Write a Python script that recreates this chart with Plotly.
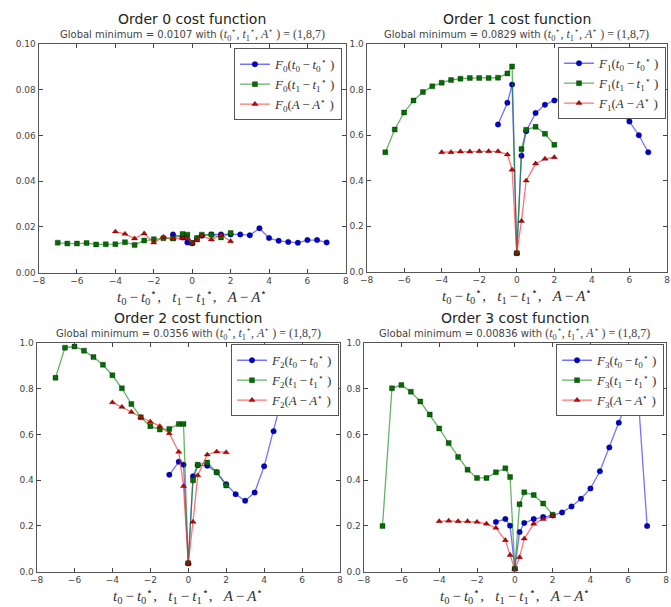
import plotly.graph_objects as go

# ---------------- data ----------------
x_t0 = [-1, -0.5, -0.25, 0, 0.25, 0.5, 1, 1.5, 2, 2.5, 3, 3.5, 4, 4.5, 5, 5.5, 6, 6.5, 7]
x_t1 = [-7, -6.5, -6, -5.5, -5, -4.5, -4, -3.5, -3, -2.5, -2, -1.5, -1, -0.5, -0.25,
        0, 0.25, 0.5, 1, 1.5, 2]
x_A = [-4, -3.5, -3, -2.5, -2, -1.5, -1, -0.5, -0.25, 0, 0.25, 0.5, 1, 1.5, 2]

# Order 0
f0_t0 = [0.0167, 0.0153, 0.0132, 0.0128, 0.0149, 0.0161, 0.0167, 0.0167, 0.0167, 0.0167,
         0.0163, 0.0194, 0.0151, 0.0139, 0.0134, 0.0130, 0.0142, 0.0142, 0.0132]
f0_t1 = [0.0131, 0.0127, 0.0127, 0.0129, 0.0123, 0.0124, 0.0124, 0.0133, 0.0121, 0.0140,
         0.0146, 0.0150, 0.0149, 0.0169, 0.0166, 0.0129, 0.0151, 0.0166, 0.0166, 0.0154, 0.0173]
f0_A = [0.0179, 0.0169, 0.0149, 0.0171, 0.0131, 0.0156, 0.0149, 0.0151, 0.0150, 0.0129,
        0.0140, 0.0161, 0.0144, 0.0164, 0.0137]

# Order 1
f1_t0 = [0.647, 0.743, 0.823, 0.081, 0.510, 0.618, 0.698, 0.734, 0.753, 0.765,
         0.770, 0.775, 0.770, 0.760, 0.735, 0.700, 0.660, 0.600, 0.525]
f1_t1 = [0.525, 0.625, 0.700, 0.753, 0.790, 0.815, 0.831, 0.843, 0.849, 0.852,
         0.852, 0.852, 0.853, 0.872, 0.903, 0.081, 0.539, 0.624, 0.637, 0.606, 0.558]
f1_A = [0.525, 0.525, 0.528, 0.528, 0.529, 0.529, 0.529, 0.515, 0.448, 0.081,
        0.222, 0.400, 0.475, 0.496, 0.503]

# Order 2
f2_t0 = [0.424, 0.481, 0.468, 0.036, 0.417, 0.466, 0.464, 0.435, 0.382, 0.339,
         0.310, 0.346, 0.461, 0.615, 0.780, 0.900, 0.950, 0.930, 0.850]
f2_t1 = [0.849, 0.981, 0.986, 0.968, 0.940, 0.906, 0.860, 0.803, 0.734, 0.676,
         0.637, 0.622, 0.625, 0.647, 0.647, 0.036, 0.400, 0.468, 0.478, 0.435, 0.377]
f2_A = [0.741, 0.721, 0.699, 0.676, 0.656, 0.637, 0.605, 0.524, 0.374, 0.036,
        0.217, 0.421, 0.512, 0.525, 0.522]

# Order 3
f3_t0 = [0.217, 0.230, 0.201, 0.012, 0.173, 0.213, 0.230, 0.239, 0.246, 0.259,
         0.285, 0.319, 0.364, 0.439, 0.544, 0.652, 0.760, 0.800, 0.199]
f3_t1 = [0.199, 0.803, 0.817, 0.788, 0.745, 0.688, 0.627, 0.563, 0.502, 0.446,
         0.410, 0.410, 0.435, 0.452, 0.414, 0.012, 0.295, 0.347, 0.335, 0.298, 0.249]
f3_A = [0.220, 0.222, 0.220, 0.220, 0.217, 0.209, 0.191, 0.137, 0.072, 0.009,
        0.062, 0.144, 0.209, 0.230, 0.242]

orders = [0, 1, 2, 3]
minima = ["0.0107", "0.0829", "0.0356", "0.00836"]
series = [(f0_t0, f0_t1, f0_A), (f1_t0, f1_t1, f1_A), (f2_t0, f2_t1, f2_A), (f3_t0, f3_t1, f3_A)]

# ---------------- layout helpers ----------------
W, H = 671, 607
# panel boxes in pixels: (left, right, top, bottom)
boxes = [(32, 344, 40, 272), (365, 670, 40, 271), (30, 338, 344, 576), (362, 669, 344, 576)]
legend_pos = [(340, 44), (669, 43), (337, 345), (667, 345)]

STAR = "\u22c6"
MINUS = "\u2009\u2212\u2009"
SERIF = "Liberation Serif, DejaVu Serif, serif"
SANS = "DejaVu Sans, sans-serif"

styles = [
    dict(name="t0", x=x_t0, line="rgba(40,40,255,0.65)", mk="rgb(0,0,210)", sym="circle", size=5.5),
    dict(name="t1", x=x_t1, line="rgba(0,128,0,0.6)", mk="rgb(0,110,0)", sym="square", size=5),
    dict(name="A", x=x_A, line="rgba(255,40,40,0.65)", mk="rgb(200,0,0)", sym="triangle-up", size=5.5),
]


def arg_label(name):
    if name == "t0":
        return f"<i>t</i><sub>0</sub>{MINUS}<i>t</i><sub>0</sub><sup>{STAR}</sup>"
    if name == "t1":
        return f"<i>t</i><sub>1</sub>{MINUS}<i>t</i><sub>1</sub><sup>{STAR}</sup>"
    return f"<i>A</i>{MINUS}<i>A</i><sup>{STAR}</sup>"


fig = go.Figure()
layout = dict(
    width=W, height=H, margin=dict(l=0, r=0, t=0, b=0),
    paper_bgcolor="white", plot_bgcolor="white", showlegend=True,
    font=dict(family=SANS, size=9, color="#333"),
)
annotations = []

for i, k in enumerate(orders):
    l, r, t, b = boxes[i]
    xa = "xaxis" if i == 0 else f"xaxis{i+1}"
    ya = "yaxis" if i == 0 else f"yaxis{i+1}"
    xref = "x" if i == 0 else f"x{i+1}"
    yref = "y" if i == 0 else f"y{i+1}"
    leg = "legend" if i == 0 else f"legend{i+1}"

    for s, yvals in zip(styles, series[i]):
        fig.add_trace(go.Scatter(
            x=s["x"], y=yvals, xaxis=xref, yaxis=yref, legend=leg,
            mode="lines+markers",
            name=f"<i>F</i><sub>{k}</sub>({arg_label(s['name'])} )",
            line=dict(color=s["line"], width=1.3),
            marker=dict(color=s["mk"], symbol=s["sym"], size=s["size"],
                        line=dict(color="rgba(0,0,0,0.6)", width=0.5)),
            cliponaxis=True,
        ))

    layout[xa] = dict(
        domain=[l / W, r / W], anchor=yref, range=[-8, 8], tickmode="array",
        tickvals=[-8, -6, -4, -2, 0, 2, 4, 6, 8], ticks="inside", ticklen=4,
        showline=True, linecolor="#555", linewidth=1, mirror="ticks",
        showgrid=False, zeroline=False, tickfont=dict(size=9, color="#444"),
    )
    if k == 0:
        yt = dict(range=[0, 0.1], tickvals=[0, 0.02, 0.04, 0.06, 0.08, 0.10], tickformat=".2f")
    else:
        yt = dict(range=[0, 1.0], tickvals=[0, 0.2, 0.4, 0.6, 0.8, 1.0], tickformat=".1f")
    layout[ya] = dict(
        domain=[1 - b / H, 1 - t / H], anchor=xref, tickmode="array", ticks="inside", ticklen=4,
        showline=True, linecolor="#555", linewidth=1, mirror="ticks",
        showgrid=False, zeroline=False, tickfont=dict(size=9, color="#444"), **yt,
    )
    lx, ly = legend_pos[i]
    layout[leg] = dict(
        x=lx / W, y=1 - ly / H, xanchor="right", yanchor="top", xref="paper", yref="paper",
        bgcolor="white", bordercolor="#555", borderwidth=1,
        font=dict(family=SERIF, size=13, color="#333"), tracegroupgap=0,
        itemwidth=30,
    )
    cx = (l + r) / 2 / W
    annotations.append(dict(
        text=f"Order {k} cost function", x=cx, y=1 - (t - 26) / H, xref="paper", yref="paper",
        showarrow=False, font=dict(family=SANS, size=14, color="#222"), xanchor="center", yanchor="middle",
    ))
    annotations.append(dict(
        text=(f"Global minimum = {minima[i]} with "
              f"<span style='font-family:{SERIF};font-size:12px'>(<i>t</i><sub>0</sub><sup>{STAR}</sup>, "
              f"<i>t</i><sub>1</sub><sup>{STAR}</sup>, <i>A</i><sup>{STAR}</sup> ) = (1,8,7)</span>"),
        x=cx, y=1 - (t - 10) / H, xref="paper", yref="paper",
        showarrow=False, font=dict(family=SANS, size=10, color="#444"), xanchor="center", yanchor="middle",
    ))
    annotations.append(dict(
        text=(f"{arg_label('t0')},&nbsp;&nbsp;&nbsp;{arg_label('t1')},&nbsp;&nbsp;&nbsp;{arg_label('A')}"),
        x=cx, y=1 - (b + 25) / H, xref="paper", yref="paper",
        showarrow=False, font=dict(family=SERIF, size=15, color="#333"), xanchor="center", yanchor="middle",
    ))

layout["annotations"] = annotations
fig.update_layout(**layout)
fig.write_html("out.html", post_script="document.body.style.margin='0';",
               config={"displayModeBar": False})
